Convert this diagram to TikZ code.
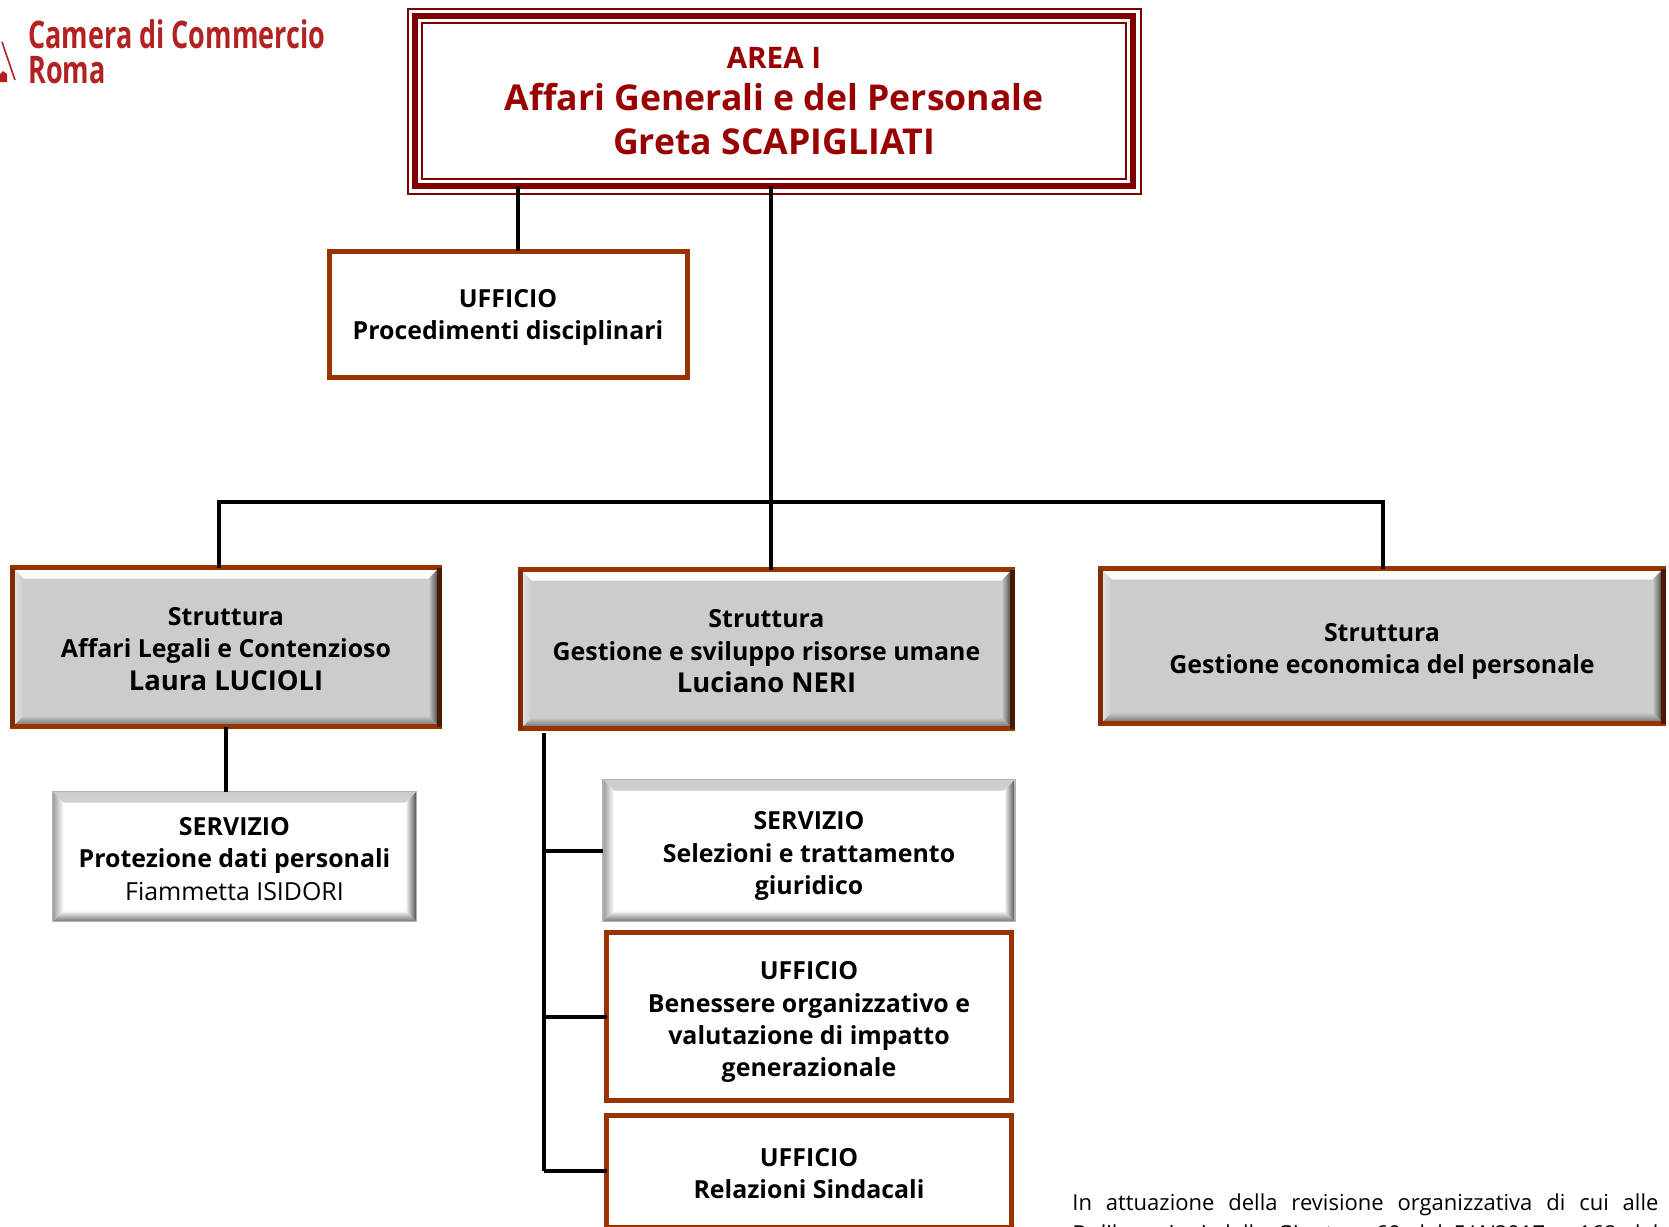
\documentclass[tikz,border=0pt]{standalone}
\usepackage{fontspec}
\setmainfont{Open Sans}
\newfontfamily\logofont[FakeStretch=0.71]{Open Sans}
\definecolor{areared}{HTML}{800000}
\definecolor{areatext}{HTML}{990000}
\definecolor{boxbrown}{HTML}{993300}
\definecolor{edgeleft}{HTML}{7F2A00}
\definecolor{edgeright}{HTML}{4A1A00}
\definecolor{logored}{HTML}{B22222}
\newcommand{\boxlines}[2]{\raisebox{-#1}[\height][\depth]{\begin{tabular}{@{}c@{}}#2\end{tabular}}}

\begin{document}
\begin{tikzpicture}[x=.5pt, y=-.5pt]

        \def\bd{11}                 % depth of the bevel
        \def\connw{4}               % width of the connectors
        \def\busx{771}              % main vertical line
        \def\busy{502}              % horizontal line above the strutture
        \def\spinex{544}            % vertical line below Gestione e sviluppo
        \tikzset{fontscale/.style 2 args = {font={\fontsize{#1pt}{#2pt}\selectfont\bfseries}}}
        \tikzset{boxsize/.style 2 args = {minimum width=#1*.5pt, minimum height=#2*.5pt}}
        \tikzset{
            bevel/.style n args={5}{path picture={
                \shade[top color=#1, bottom color=#5] (path picture bounding box.north west) -- (path picture bounding box.north east)
                    -- ([shift={(-\bd,\bd)}]path picture bounding box.north east) -- ([shift={(\bd,\bd)}]path picture bounding box.north west) -- cycle;
                \shade[top color=#5, bottom color=#3] (path picture bounding box.south west) -- (path picture bounding box.south east)
                    -- ([shift={(-\bd,-\bd)}]path picture bounding box.south east) -- ([shift={(\bd,-\bd)}]path picture bounding box.south west) -- cycle;
                \shade[left color=#4, right color=#5] (path picture bounding box.north west) -- (path picture bounding box.south west)
                    -- ([shift={(\bd,-\bd)}]path picture bounding box.south west) -- ([shift={(\bd,\bd)}]path picture bounding box.north west) -- cycle;
                \shade[left color=#5, right color=#2] (path picture bounding box.north east) -- (path picture bounding box.south east)
                    -- ([shift={(-\bd,-\bd)}]path picture bounding box.south east) -- ([shift={(-\bd,\bd)}]path picture bounding box.north east) -- cycle;
            }}
        }
        \tikzstyle{base}=[rectangle,align=center,inner sep=0pt,outer sep=0pt,fontscale={12.45}{16.2}]
        \tikzstyle{area}=[base,draw=areared,line width=3pt,fill=white,text=areatext]
        \tikzstyle{ufficio}=[base,draw=boxbrown,line width=2.5pt,fill=white]
        \tikzstyle{struttura}=[base,draw=boxbrown,line width=2.5pt,fill=black!20,bevel={white}{black!80}{black!60}{black!10}{black!20}]
        \tikzstyle{servizio}=[base,draw=black!30,line width=.8pt,fill=white,bevel={black!20}{black!70}{black!55}{black!40}{white}]
        \tikzstyle{conn}=[black,line width=\connw*.5pt]

        \useasboundingbox (0,0) rectangle (1669,1226);
        \clip (0,0) rectangle (1669,1226);

        % Draw the logo
        \node[text=logored,inner sep=0pt,anchor=west,align=left,font={\fontsize{19}{17.5}\selectfont\logofont\bfseries}] (logo) at (28,52) {Camera di Commercio\\Roma};
        \draw[logored,line width=.8pt] (2,42) -- (15,80);
        \fill[logored] (0,82) -- (0,74) -- (3,71) -- (7,74) -- (7,82) -- cycle;

        % Draw the area box and its frames
        \node[area,boxsize={718}{170}] (Area) at (774,101)
            {{\fontsize{14.8}{18}\selectfont AREA I}\\[5pt]
             {\fontsize{17.8}{22}\selectfont Affari Generali e del Personale}\\[5.8pt]
             {\fontsize{17.8}{22}\selectfont Greta SCAPIGLIATI}};
        \draw[areared,line width=1pt] ([shift={(-7.5,-7.5)}]Area.north west) rectangle ([shift={(7.5,7.5)}]Area.south east);
        \draw[areared,line width=1pt] ([shift={(7,7)}]Area.north west) rectangle ([shift={(-7,-7)}]Area.south east);

        % Draw the office under the area
        \node[ufficio,boxsize={358}{126}] (Upd) at (508,314) {\boxlines{1.4pt}{UFFICIO\\Procedimenti disciplinari}};

        % Draw the strutture
        \node[struttura,boxsize={427}{159}] (S1) at (226,647)
            {\boxlines{2.2pt}{Struttura\\Affari Legali e Contenzioso\\{\fontsize{13.7}{16}\selectfont Laura LUCIOLI}}};
        \node[struttura,boxsize={492}{159}] (S2) at (766.5,649)
            {\boxlines{2.3pt}{Struttura\\Gestione e sviluppo risorse umane\\{\fontsize{13.7}{16}\selectfont Luciano NERI}}};
        \node[struttura,boxsize={563}{155}] (S3) at (1382,646)
            {\boxlines{2.4pt}{Struttura\\Gestione economica del personale}};
        \foreach \sname in {S1,S2,S3}{
            \draw[edgeleft,line width=2.5pt] (\sname.north west) -- (\sname.south west);
            \draw[edgeright,line width=2.5pt] (\sname.north east) -- (\sname.south east);
        }

        % Draw the boxes below the strutture
        \node[servizio,boxsize={364}{130}] (Sdp) at (234.5,856.5)
            {\boxlines{2.4pt}{SERVIZIO\\Protezione dati personali\\{\mdseries Fiammetta ISIDORI}}};
        \node[servizio,boxsize={412}{142}] (Sst) at (809,850.5)
            {\boxlines{2.7pt}{SERVIZIO\\Selezioni e trattamento\\giuridico}};
        \node[ufficio,boxsize={405}{168}] (Ube) at (809,1016.5)
            {\boxlines{2.7pt}{UFFICIO\\Benessere organizzativo e\\valutazione di impatto\\generazionale}};
        \node[ufficio,boxsize={405}{112}] (Urs) at (809,1171)
            {\boxlines{2.4pt}{UFFICIO\\Relazioni Sindacali}};

        % Named points of the connectors
        \coordinate (bus) at (\busx,\busy);
        \coordinate (spinetop) at (\spinex,733);
        \coordinate (spineend) at (\spinex,1171);
        \coordinate (drop) at (219,\busy);
        \coordinate (drop3) at (1383,\busy);
        \coordinate (upd) at (518,220);

        % Connect the area with the boxes below
        \draw[conn] (Area.south -| upd) -- (Upd.north -| upd);
        \draw[conn] (Area.south -| bus) -- (S2.north -| bus);
        \draw[conn] (S1.north -| drop) -- (drop) -- (drop3) -- (S3.north -| drop3);
        \draw[conn] (S1.south) -- (Sdp.north -| S1.south);

        % Connect the spine with the boxes on its right
        \draw[conn] (spinetop) -- (spineend);
        \foreach \target in {Sst,Ube,Urs}{
            \draw[conn] (\target.west -| spinetop) -- (\target.west);
        }

        % Text in the corner
        \node[inner sep=0pt,anchor=north west,align=left,font={\fontsize{11}{15.5}\selectfont}] (note) at (1072,1193)
            {\makebox[293pt][s]{In attuazione della revisione organizzativa di cui alle}\\
             \makebox[293pt][s]{Deliberazioni della Giunta n.60 del 5/4/2017 e 168 del}};

\end{tikzpicture}
\end{document}
